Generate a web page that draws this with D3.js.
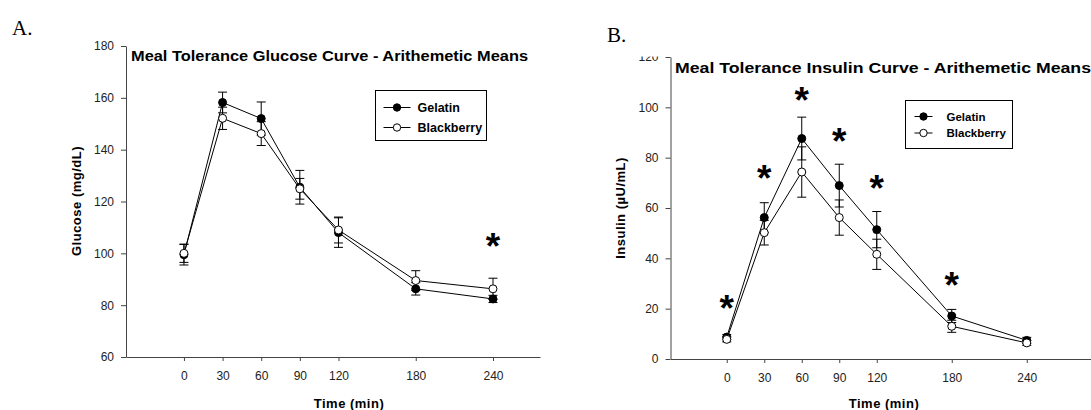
<!DOCTYPE html>
<html>
<head>
<meta charset="utf-8">
<script src="https://cdn.jsdelivr.net/npm/d3@7"></script>
<style>
  body { margin: 0; background: #fff; }
  svg { display: block; font-family: "Liberation Sans", Arial, sans-serif; }
</style>
</head>
<body>
<div id="chart-container"></div>
<script>
const W = 1091, H = 410;

// Sampling times (min) and tick values
const times = [0, 30, 60, 90, 120, 180, 240];
const glucoseTicks = [60, 80, 100, 120, 140, 160, 180];
const insulinTicks = [0, 20, 40, 60, 80, 100, 120];
const seriesNames = ["Gelatin", "Blackberry"];

// Panel A: glucose (mg/dL), mean and SEM
const glucoseGelatin = [99.5, 158.2, 152, 125.5, 108, 86.3, 82.4];
const glucoseGelatinSem = [4, 4, 6.4, 6.5, 5.7, 2.4, 1.4];
const glucoseBlackberry = [100, 152.1, 146.2, 124.9, 109, 89.5, 86.3];
const glucoseBlackberrySem = [3.5, 4.3, 4.6, 4, 5, 3.8, 4.1];
const glucoseStarTimes = [240];
const glucoseStarLevels = [106];

// Panel B: insulin (µU/mL), mean and SEM
const insulinGelatin = [8.7, 56.2, 87.6, 68.9, 51.4, 17.1, 7.4];
const insulinGelatinSem = [1, 5.9, 8.5, 8.5, 7.2, 2.6, 1.2];
const insulinBlackberry = [7.8, 50.2, 74.3, 56.2, 41.6, 13, 6.4];
const insulinBlackberrySem = [1, 4.9, 10, 7, 6, 2.4, 1];
const insulinStarTimes = [0, 30, 60, 90, 120, 180];
const insulinStarLevels = [23.4, 75, 106, 90, 71, 32.6];

const svg = d3.select("#chart-container")
  .append("svg")
  .attr("width", W)
  .attr("height", H);

// clip for the cut-off top of panel B's axis
svg.append("defs").append("clipPath")
  .attr("id", "clipB")
  .append("rect")
  .attr("x", 560).attr("y", 56.5).attr("width", 540).attr("height", 360);

const drawPanel = (cfg) => {
  const x = d3.scaleLinear().domain(cfg.xDomain).range(cfg.xRange);
  const y = d3.scaleLinear().domain(cfg.yDomain).range(cfg.yRange);
  const g = svg.append("g");

  // Panel letter
  svg.append("text")
    .attr("x", cfg.letterPos[0])
    .attr("y", cfg.letterPos[1])
    .style("font-family", "'Liberation Serif', 'Times New Roman', serif")
    .style("font-size", "21px")
    .text(cfg.letter);

  // Axes
  const yWrap = g.append("g");
  if (cfg.clip) yWrap.attr("clip-path", `url(#${cfg.clip})`);
  const yAxis = yWrap.append("g")
    .attr("transform", `translate(${cfg.xRange[0]},0)`)
    .call(d3.axisLeft(y).tickValues(cfg.yTicks).tickSize(5).tickPadding(7).tickSizeOuter(0));

  const xAxis = g.append("g")
    .attr("transform", `translate(0,${cfg.yRange[0]})`)
    .call(d3.axisBottom(x).tickValues(times).tickSize(4).tickPadding(10).tickSizeOuter(0));

  [xAxis, yAxis].forEach(a => {
    a.select(".domain").attr("stroke", "#444");
    a.selectAll(".tick line").attr("stroke", "#444");
    a.selectAll(".tick text")
      .style("font-size", "12px")
      .style("font-family", "'Liberation Sans', Arial, sans-serif")
      .attr("fill", "#222");
  });

  // Title
  g.append("text")
    .attr("x", cfg.titlePos[0])
    .attr("y", cfg.titlePos[1])
    .attr("textLength", cfg.titleLength)
    .attr("lengthAdjust", "spacingAndGlyphs")
    .style("font-size", "15px")
    .style("font-weight", "bold")
    .text(cfg.title);

  // Axis labels
  g.append("text")
    .attr("text-anchor", "middle")
    .attr("transform", `translate(${cfg.yLabelPos[0]},${cfg.yLabelPos[1]}) rotate(-90)`)
    .style("font-size", "13px")
    .style("font-weight", "bold")
    .style("letter-spacing", "0.5px")
    .text(cfg.yLabel);

  g.append("text")
    .attr("text-anchor", "middle")
    .attr("x", cfg.xLabelPos[0])
    .attr("y", cfg.xLabelPos[1])
    .style("font-size", "13px")
    .style("font-weight", "bold")
    .style("letter-spacing", "0.5px")
    .text("Time (min)");

  // Series
  const line = d3.line().x(d => x(d.t)).y(d => y(d.v));
  cfg.series.forEach(s => {
    const pts = times.map((t, i) => ({ t: t, v: s.values[i], e: s.sem[i] }));
    g.append("path")
      .datum(pts)
      .attr("fill", "none")
      .attr("stroke", "#000")
      .attr("stroke-width", 1)
      .attr("d", line);

    const eb = g.append("g").selectAll("g").data(pts).enter().append("g")
      .attr("stroke", "#000").attr("stroke-width", 1);
    eb.append("line")
      .attr("x1", d => x(d.t)).attr("x2", d => x(d.t))
      .attr("y1", d => y(d.v - d.e)).attr("y2", d => y(d.v + d.e));
    eb.append("line")
      .attr("x1", d => x(d.t) - cfg.cap).attr("x2", d => x(d.t) + cfg.cap)
      .attr("y1", d => y(d.v + d.e)).attr("y2", d => y(d.v + d.e));
    eb.append("line")
      .attr("x1", d => x(d.t) - cfg.cap).attr("x2", d => x(d.t) + cfg.cap)
      .attr("y1", d => y(d.v - d.e)).attr("y2", d => y(d.v - d.e));
  });

  cfg.series.forEach(s => {
    g.append("g").selectAll("circle")
      .data(times.map((t, i) => ({ t: t, v: s.values[i] })))
      .enter().append("circle")
      .attr("cx", d => x(d.t))
      .attr("cy", d => y(d.v))
      .attr("r", cfg.r)
      .attr("fill", s.fill)
      .attr("stroke", "#000")
      .attr("stroke-width", 1);
  });

  // Significance stars
  g.selectAll(".star")
    .data(cfg.starTimes.map((t, i) => ({ t: t, v: cfg.starLevels[i] })))
    .enter().append("text")
    .attr("class", "star")
    .attr("x", d => x(d.t))
    .attr("y", d => y(d.v) + 21)
    .attr("text-anchor", "middle")
    .style("font-size", "37px")
    .style("font-weight", "bold")
    .text("*");

  // Legend
  const lg = g.append("g").attr("transform", `translate(${cfg.legend.x},${cfg.legend.y})`);
  lg.append("rect")
    .attr("width", cfg.legend.w).attr("height", cfg.legend.h)
    .attr("fill", "#fff").attr("stroke", "#000").attr("stroke-width", 1);
  cfg.series.forEach((s, i) => {
    const row = lg.append("g")
      .attr("transform", `translate(0,${cfg.legend.row0 + i * cfg.legend.dy})`);
    row.append("line")
      .attr("x1", cfg.legend.lx0).attr("x2", cfg.legend.lx1)
      .attr("stroke", "#000");
    row.append("circle")
      .attr("cx", (cfg.legend.lx0 + cfg.legend.lx1) / 2)
      .attr("r", cfg.r - 0.3)
      .attr("fill", s.fill).attr("stroke", "#000");
    row.append("text")
      .attr("x", cfg.legend.tx)
      .attr("dy", "0.36em")
      .style("font-size", cfg.legend.fs)
      .style("font-weight", "bold")
      .text(s.name);
  });
};

drawPanel({
  letter: "A.", letterPos: [12, 35],
  xDomain: [-45, 276.5], xRange: [126, 540],
  yDomain: [60, 180], yRange: [357, 46], yTicks: glucoseTicks,
  title: "Meal Tolerance Glucose Curve - Arithemetic Means",
  titlePos: [131, 60.5], titleLength: 397,
  yLabel: "Glucose (mg/dL)", yLabelPos: [81, 201],
  xLabelPos: [349, 408],
  r: 4, cap: 4.5,
  series: [
    { name: seriesNames[0], values: glucoseGelatin, sem: glucoseGelatinSem, fill: "#000" },
    { name: seriesNames[1], values: glucoseBlackberry, sem: glucoseBlackberrySem, fill: "#fff" }
  ],
  starTimes: glucoseStarTimes, starLevels: glucoseStarLevels,
  legend: { x: 375.5, y: 90.5, w: 111, h: 50, row0: 17, dy: 20, lx0: 8, lx1: 35, tx: 42, fs: "12.5px" }
});

drawPanel({
  letter: "B.", letterPos: [607, 42], clip: "clipB",
  xDomain: [-45, 300], xRange: [670.5, 1101.75],
  yDomain: [0, 120], yRange: [359, 57], yTicks: insulinTicks,
  title: "Meal Tolerance Insulin Curve - Arithemetic Means",
  titlePos: [675, 73], titleLength: 416,
  yLabel: "Insulin (µU/mL)", yLabelPos: [625, 208],
  xLabelPos: [884, 408],
  r: 4, cap: 4.5,
  series: [
    { name: seriesNames[0], values: insulinGelatin, sem: insulinGelatinSem, fill: "#000" },
    { name: seriesNames[1], values: insulinBlackberry, sem: insulinBlackberrySem, fill: "#fff" }
  ],
  starTimes: insulinStarTimes, starLevels: insulinStarLevels,
  legend: { x: 905.5, y: 100.5, w: 107, h: 48, row0: 16, dy: 16.5, lx0: 9, lx1: 27, tx: 41, fs: "11.5px" }
});
</script>
</body>
</html>
